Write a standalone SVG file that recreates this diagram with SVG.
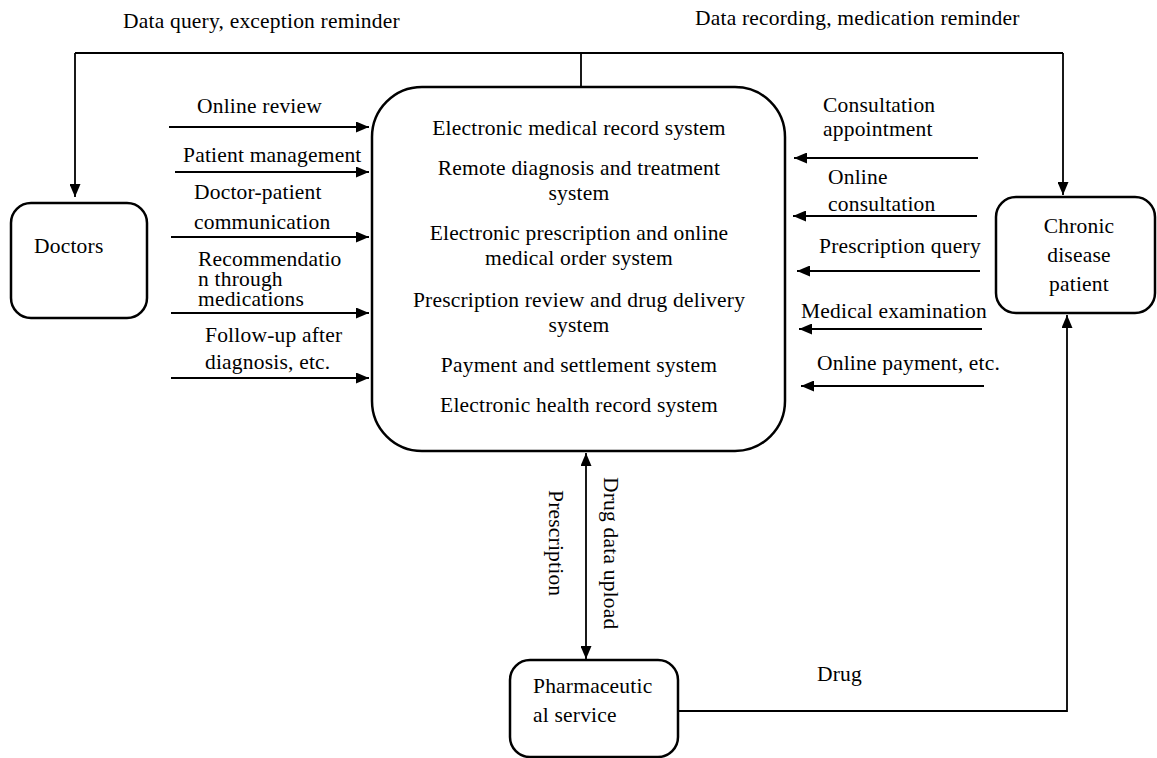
<svg xmlns="http://www.w3.org/2000/svg" width="1157" height="758" viewBox="0 0 1157 758">
<defs>
<marker id="arr" markerUnits="userSpaceOnUse" markerWidth="13" markerHeight="11" refX="13" refY="5.5" orient="auto-start-reverse">
<path d="M0,0 L13,5.5 L0,11 z" fill="#000"/>
</marker>
</defs>
<style>
text{font-family:"Liberation Serif","Times New Roman",serif;font-size:21.5px;letter-spacing:0.2px;fill:#000}
.box{fill:#fff;stroke:#000;stroke-width:2.5}
.ln{fill:none;stroke:#000;stroke-width:1.8}
.ar{fill:none;stroke:#000;stroke-width:1.8;marker-end:url(#arr)}
.c{text-anchor:middle}
</style>
<rect width="1157" height="758" fill="#fff"/>
<g id="connectors">
<path class="ln" d="M75,53 L1063,53"/>
<path class="ln" d="M581,53 L581,87"/>
<path class="ar" d="M75,53 L75,197"/>
<path class="ar" d="M1063,53 L1063,195"/>
<path class="ar" d="M169,127 L369,127"/>
<path class="ar" d="M175,172 L369,172"/>
<path class="ar" d="M171,237 L369,237"/>
<path class="ar" d="M171,313 L369,313"/>
<path class="ar" d="M171,378 L369,378"/>
<path class="ar" d="M978,158 L794,158"/>
<path class="ar" d="M977,216 L793,216"/>
<path class="ar" d="M980,271 L797,271"/>
<path class="ar" d="M982,329 L799,329"/>
<path class="ar" d="M984,386 L801,386"/>
<path class="ar" d="M586,453 L586,659" style="marker-start:url(#arr)"/>
<path class="ar" d="M678,711 L1067,711 L1067,315"/>
</g>
<g id="labels">
<text x="123" y="28">Data query, exception reminder</text>
<text x="695" y="25">Data recording, medication reminder</text>
<text x="197" y="113">Online review</text>
<text x="183" y="162">Patient management</text>
<text x="194" y="199">Doctor-patient</text>
<text x="194" y="229">communication</text>
<text x="198" y="266">Recommendatio</text>
<text x="198" y="286">n through</text>
<text x="198" y="306">medications</text>
<text x="205" y="342">Follow-up after</text>
<text x="205" y="369">diagnosis, etc.</text>
<text x="823" y="112">Consultation</text>
<text x="823" y="136">appointment</text>
<text x="828" y="184">Online</text>
<text x="828" y="211">consultation</text>
<text x="819" y="253">Prescription query</text>
<text x="801" y="318">Medical examination</text>
<text x="817" y="370">Online payment, etc.</text>
<text x="817" y="681">Drug</text>
<text transform="translate(549,490) rotate(90)">Prescription</text>
<text transform="translate(604,477) rotate(90)">Drug data upload</text>
</g>
<g id="main-system">
<rect class="box" x="372" y="87" width="413" height="364" rx="50" ry="50"/>
<text class="c" x="579" y="135">Electronic medical record system</text>
<text class="c" x="579" y="175">Remote diagnosis and treatment</text>
<text class="c" x="579" y="200">system</text>
<text class="c" x="579" y="240">Electronic prescription and online</text>
<text class="c" x="579" y="265">medical order system</text>
<text class="c" x="579" y="307">Prescription review and drug delivery</text>
<text class="c" x="579" y="332">system</text>
<text class="c" x="579" y="372">Payment and settlement system</text>
<text class="c" x="579" y="412">Electronic health record system</text>
</g>
<g id="doctors">
<rect class="box" x="11" y="203" width="136" height="115" rx="20" ry="20"/>
<text x="34" y="253">Doctors</text>
</g>
<g id="patient">
<rect class="box" x="996" y="197" width="159" height="116" rx="20" ry="20"/>
<text class="c" x="1079" y="233">Chronic</text>
<text class="c" x="1079" y="262">disease</text>
<text class="c" x="1079" y="291">patient</text>
</g>
<g id="pharmacy">
<rect class="box" x="510" y="660" width="168" height="97" rx="20" ry="20"/>
<text x="533" y="693">Pharmaceutic</text>
<text x="533" y="722">al service</text>
</g>
</svg>
